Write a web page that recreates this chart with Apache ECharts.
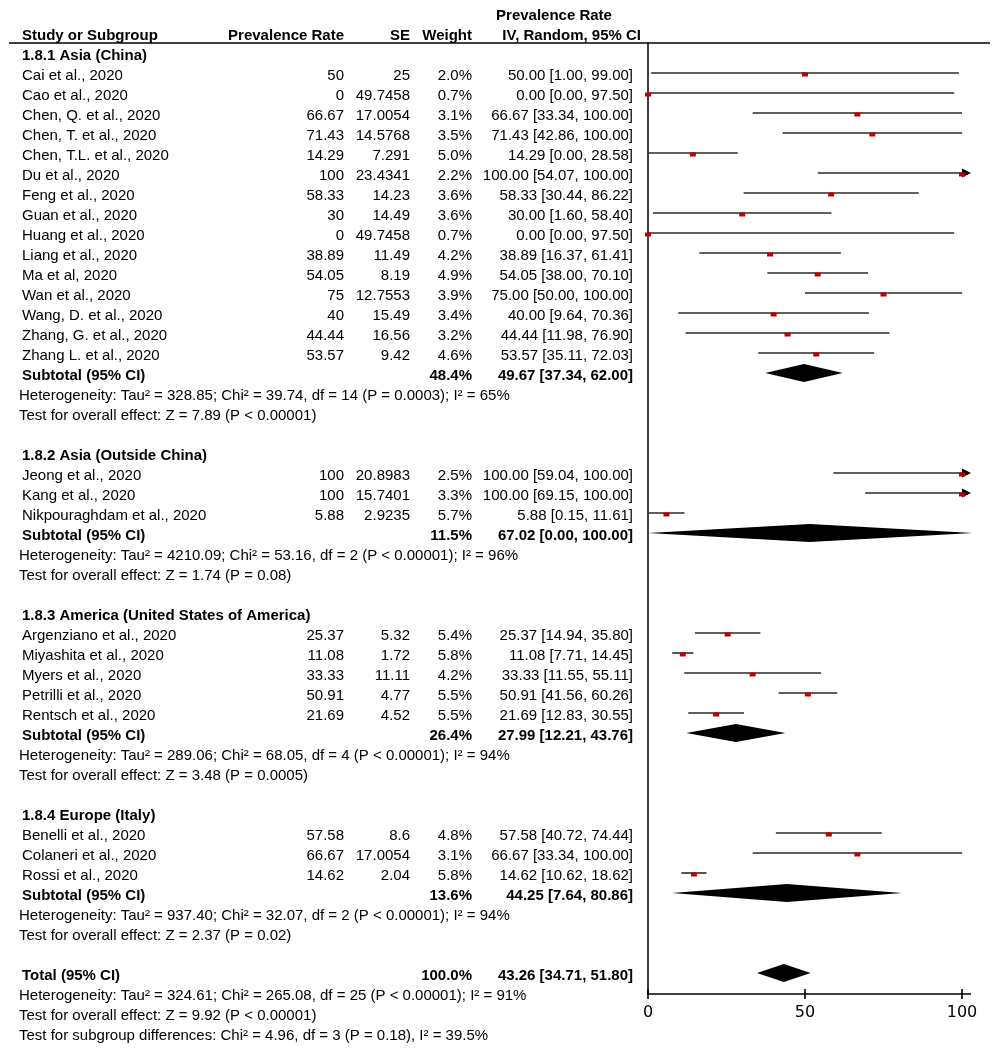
<!DOCTYPE html>
<html><head><meta charset="utf-8">
<script src="https://cdn.jsdelivr.net/npm/echarts@6/dist/echarts.min.js"></script>
<style>html,body{margin:0;padding:0;background:#fff;}#chart{width:1000px;height:1051px;}</style>
</head><body><div id="chart"></div>
<script>
// ---------------- data ----------------
const groupNames = ['1.8.1 Asia (China)', '1.8.2 Asia (Outside China)', '1.8.3 America (United States of America)', '1.8.4 Europe (Italy)'];
const studyNames = [
  'Cai et al., 2020', 'Cao et al., 2020', 'Chen, Q. et al., 2020', 'Chen, T. et al., 2020', 'Chen, T.L. et al., 2020',
  'Du et al., 2020', 'Feng et al., 2020', 'Guan et al., 2020', 'Huang et al., 2020', 'Liang et al., 2020',
  'Ma et al, 2020', 'Wan et al., 2020', 'Wang, D. et al., 2020', 'Zhang, G. et al., 2020', 'Zhang L. et al., 2020',
  'Jeong et al., 2020', 'Kang et al., 2020', 'Nikpouraghdam et al., 2020',
  'Argenziano et al., 2020', 'Miyashita et al., 2020', 'Myers et al., 2020', 'Petrilli et al., 2020', 'Rentsch et al., 2020',
  'Benelli et al., 2020', 'Colaneri et al., 2020', 'Rossi et al., 2020'
];
const studyGroup = [0,0,0,0,0,0,0,0,0,0,0,0,0,0,0, 1,1,1, 2,2,2,2,2, 3,3,3];
const prevalence = [50, 0, 66.67, 71.43, 14.29, 100, 58.33, 30, 0, 38.89, 54.05, 75, 40, 44.44, 53.57,
  100, 100, 5.88, 25.37, 11.08, 33.33, 50.91, 21.69, 57.58, 66.67, 14.62];
const standardError = [25, 49.7458, 17.0054, 14.5768, 7.291, 23.4341, 14.23, 14.49, 49.7458, 11.49, 8.19, 12.7553, 15.49, 16.56, 9.42,
  20.8983, 15.7401, 2.9235, 5.32, 1.72, 11.11, 4.77, 4.52, 8.6, 17.0054, 2.04];
const weightPct = [2.0, 0.7, 3.1, 3.5, 5.0, 2.2, 3.6, 3.6, 0.7, 4.2, 4.9, 3.9, 3.4, 3.2, 4.6,
  2.5, 3.3, 5.7, 5.4, 5.8, 4.2, 5.5, 5.5, 4.8, 3.1, 5.8];
const ciLow = [1.00, 0.00, 33.34, 42.86, 0.00, 54.07, 30.44, 1.60, 0.00, 16.37, 38.00, 50.00, 9.64, 11.98, 35.11,
  59.04, 69.15, 0.15, 14.94, 7.71, 11.55, 41.56, 12.83, 40.72, 33.34, 10.62];
const ciHigh = [99.00, 97.50, 100.00, 100.00, 28.58, 100.00, 86.22, 58.40, 97.50, 61.41, 70.10, 100.00, 70.36, 76.90, 72.03,
  100.00, 100.00, 11.61, 35.80, 14.45, 55.11, 60.26, 30.55, 74.44, 100.00, 18.62];

const subtotalWeight = [48.4, 11.5, 26.4, 13.6];
const subtotalEst = [49.67, 67.02, 27.99, 44.25];
const subtotalLow = [37.34, 0.00, 12.21, 7.64];
const subtotalHigh = [62.00, 100.00, 43.76, 80.86];
// diamond apex / right tip as drawn in the picture
const diamondApex = [49.67, 51.5, 27.99, 44.25];
const diamondRight = [62.00, 103.5, 43.76, 80.86];

const heterogeneityText = [
  'Heterogeneity: Tau\u00b2 = 328.85; Chi\u00b2 = 39.74, df = 14 (P = 0.0003); I\u00b2 = 65%',
  'Heterogeneity: Tau\u00b2 = 4210.09; Chi\u00b2 = 53.16, df = 2 (P < 0.00001); I\u00b2 = 96%',
  'Heterogeneity: Tau\u00b2 = 289.06; Chi\u00b2 = 68.05, df = 4 (P < 0.00001); I\u00b2 = 94%',
  'Heterogeneity: Tau\u00b2 = 937.40; Chi\u00b2 = 32.07, df = 2 (P < 0.00001); I\u00b2 = 94%'
];
const overallEffectText = [
  'Test for overall effect: Z = 7.89 (P < 0.00001)',
  'Test for overall effect: Z = 1.74 (P = 0.08)',
  'Test for overall effect: Z = 3.48 (P = 0.0005)',
  'Test for overall effect: Z = 2.37 (P = 0.02)'
];
const totalWeight = 100.0;
const totalEst = 43.26;
const totalLow = 34.71;
const totalHigh = 51.80;
const totalNotes = [
  'Heterogeneity: Tau\u00b2 = 324.61; Chi\u00b2 = 265.08, df = 25 (P < 0.00001); I\u00b2 = 91%',
  'Test for overall effect: Z = 9.92 (P < 0.00001)',
  'Test for subgroup differences: Chi\u00b2 = 4.96, df = 3 (P = 0.18), I\u00b2 = 39.5%'
];
const xTicks = [0, 50, 100];

// ---------------- row layout ----------------
const rows = [];
let k = 0;
rows.push({k: -2, type: 'head1'});
rows.push({k: -1, type: 'head2'});
groupNames.forEach((g, gi) => {
  rows.push({k: k++, type: 'group', text: g});
  studyNames.forEach((n, i) => { if (studyGroup[i] === gi) rows.push({k: k++, type: 'study', i: i}); });
  rows.push({k: k++, type: 'subtotal', g: gi});
  rows.push({k: k++, type: 'note', text: heterogeneityText[gi]});
  rows.push({k: k++, type: 'note', text: overallEffectText[gi]});
  k++;
});
rows.push({k: k++, type: 'total'});
totalNotes.forEach(t => rows.push({k: k++, type: 'note', text: t}));

const studyRowK = [];
const subtotalRowK = [];
let totalRowK = 0;
rows.forEach(r => {
  if (r.type === 'study') studyRowK[r.i] = r.k;
  if (r.type === 'subtotal') subtotalRowK[r.g] = r.k;
  if (r.type === 'total') totalRowK = r.k;
});

const FONT = '"Liberation Sans", Arial, sans-serif';
const COL = {name: 22, note: 19, rate: 344, se: 410, weight: 472, ci: 633, ciHead: 641, ciHeadTop: 554};
function T(x, y, s, align, bold, size) {
  return {type: 'text', style: {x: x, y: y, text: s, align: align, verticalAlign: 'middle',
    textAlign: align, textVerticalAlign: 'middle', fill: '#000',
    font: (bold ? 'bold ' : '') + (size || 15) + 'px ' + FONT}};
}
function ciStr(e, l, h) { return e.toFixed(2) + ' [' + l.toFixed(2) + ', ' + h.toFixed(2) + ']'; }

const tableData = rows.map(r => [0, r.k]);
function renderTable(params, api) {
  const r = rows[params.dataIndex];
  const y = api.coord([0, api.value(1)])[1] + 3;
  const c = [];
  if (r.type === 'head1') {
    c.push(T(COL.ciHeadTop, y, 'Prevalence Rate', 'center', true));
  } else if (r.type === 'head2') {
    c.push(T(COL.name, y, 'Study or Subgroup', 'left', true));
    c.push(T(COL.rate, y, 'Prevalence Rate', 'right', true));
    c.push(T(COL.se, y, 'SE', 'right', true));
    c.push(T(COL.weight, y, 'Weight', 'right', true));
    c.push(T(COL.ciHead, y, 'IV, Random, 95% CI', 'right', true));
  } else if (r.type === 'group') {
    c.push(T(COL.name, y, r.text, 'left', true));
  } else if (r.type === 'study') {
    const i = r.i;
    c.push(T(COL.name, y, studyNames[i], 'left', false));
    c.push(T(COL.rate, y, String(prevalence[i]), 'right', false));
    c.push(T(COL.se, y, String(standardError[i]), 'right', false));
    c.push(T(COL.weight, y, weightPct[i].toFixed(1) + '%', 'right', false));
    c.push(T(COL.ci, y, ciStr(prevalence[i], ciLow[i], ciHigh[i]), 'right', false));
  } else if (r.type === 'subtotal') {
    const g = r.g;
    c.push(T(COL.name, y, 'Subtotal (95% CI)', 'left', true));
    c.push(T(COL.weight, y, subtotalWeight[g].toFixed(1) + '%', 'right', true));
    c.push(T(COL.ci, y, ciStr(subtotalEst[g], subtotalLow[g], subtotalHigh[g]), 'right', true));
  } else if (r.type === 'total') {
    c.push(T(COL.name, y, 'Total (95% CI)', 'left', true));
    c.push(T(COL.weight, y, totalWeight.toFixed(1) + '%', 'right', true));
    c.push(T(COL.ci, y, ciStr(totalEst, totalLow, totalHigh), 'right', true));
  } else if (r.type === 'note') {
    c.push(T(COL.note, y, r.text, 'left', false, 15));
  }
  return {type: 'group', children: c};
}

const ciData = studyNames.map((n, i) => [ciLow[i], ciHigh[i], studyRowK[i], prevalence[i], prevalence[i] >= 100 ? 1 : 0]);
function renderCI(params, api) {
  const yk = api.value(2);
  const a = api.coord([api.value(0), yk]);
  const b = api.coord([api.value(1), yk]);
  const p = api.coord([api.value(3), yk]);
  const c = [{type: 'line', shape: {x1: a[0], y1: a[1], x2: b[0], y2: b[1]}, style: {stroke: '#2a2a2a', lineWidth: 1.6}}];
  if (api.value(4)) {
    c.push({type: 'polygon', shape: {points: [[b[0], b[1] - 4.5], [b[0] + 9, b[1]], [b[0], b[1] + 4.5]]}, style: {fill: '#000'}});
  }
  c.push({type: 'rect', shape: {x: p[0] - 3, y: p[1] - 0.5, width: 6, height: 4}, style: {fill: '#c00000'}});
  return {type: 'group', children: c};
}

const diamondData = groupNames.map((g, gi) => [subtotalLow[gi], diamondApex[gi], diamondRight[gi], subtotalRowK[gi]]);
diamondData.push([totalLow, totalEst, totalHigh, totalRowK]);
function renderDiamond(params, api) {
  const yk = api.value(3);
  const l = api.coord([api.value(0), yk]);
  const m = api.coord([api.value(1), yk]);
  const h = api.coord([api.value(2), yk]);
  const hh = 9;
  return {type: 'polygon', shape: {points: [[l[0], l[1]], [m[0], m[1] - hh], [h[0], h[1]], [m[0], m[1] + hh]]}, style: {fill: '#000'}};
}

function renderTicks(params, api) {
  const cs = params.coordSys;
  const bottom = cs.y + cs.height;
  const p = api.coord([api.value(0), 0]);
  const c = [{type: 'line', shape: {x1: p[0], y1: bottom - 5, x2: p[0], y2: bottom + 5}, style: {stroke: '#000', lineWidth: 1.6}}];
  if (params.dataIndex === params.dataInsideLength - 1) {
    c.push({type: 'line', shape: {x1: p[0], y1: bottom, x2: p[0] + 9, y2: bottom}, style: {stroke: '#000', lineWidth: 1.5}});
  }
  return {type: 'group', children: c};
}

const chart = echarts.init(document.getElementById('chart'), null, {renderer: 'canvas', width: 1000, height: 1051});
chart.setOption({
  animation: false,
  backgroundColor: '#fff',
  grid: {left: 648, top: 43, width: 314, height: 951, containLabel: false, outerBoundsMode: 'none'},
  xAxis: {
    type: 'value', min: 0, max: 100, interval: 50, position: 'bottom',
    axisLine: {show: true, onZero: false, lineStyle: {color: '#000', width: 1.5}},
    axisTick: {show: false},
    splitLine: {show: false},
    axisLabel: {show: true, margin: 11, color: '#000', fontSize: 16, fontFamily: '"DejaVu Sans", sans-serif'}
  },
  yAxis: {
    type: 'value', inverse: true, min: -0.5, max: 47.05, position: 'left',
    axisLine: {show: true, onZero: false, lineStyle: {color: '#000', width: 1.5}},
    axisTick: {show: false}, axisLabel: {show: false}, splitLine: {show: false}
  },
  graphic: [
    {type: 'line', shape: {x1: 9, y1: 43, x2: 990, y2: 43}, style: {stroke: '#000', lineWidth: 1.5}, silent: true}
  ],
  series: [
    {type: 'custom', name: 'table', data: tableData, renderItem: renderTable, clip: false, silent: true},
    {type: 'custom', name: 'ci', data: ciData, renderItem: renderCI, clip: false, silent: true},
    {type: 'custom', name: 'diamonds', data: diamondData, renderItem: renderDiamond, clip: false, silent: true},
    {type: 'custom', name: 'ticks', data: xTicks.map(v => [v]), renderItem: renderTicks, clip: false, silent: true}
  ]
});
</script></body></html>
